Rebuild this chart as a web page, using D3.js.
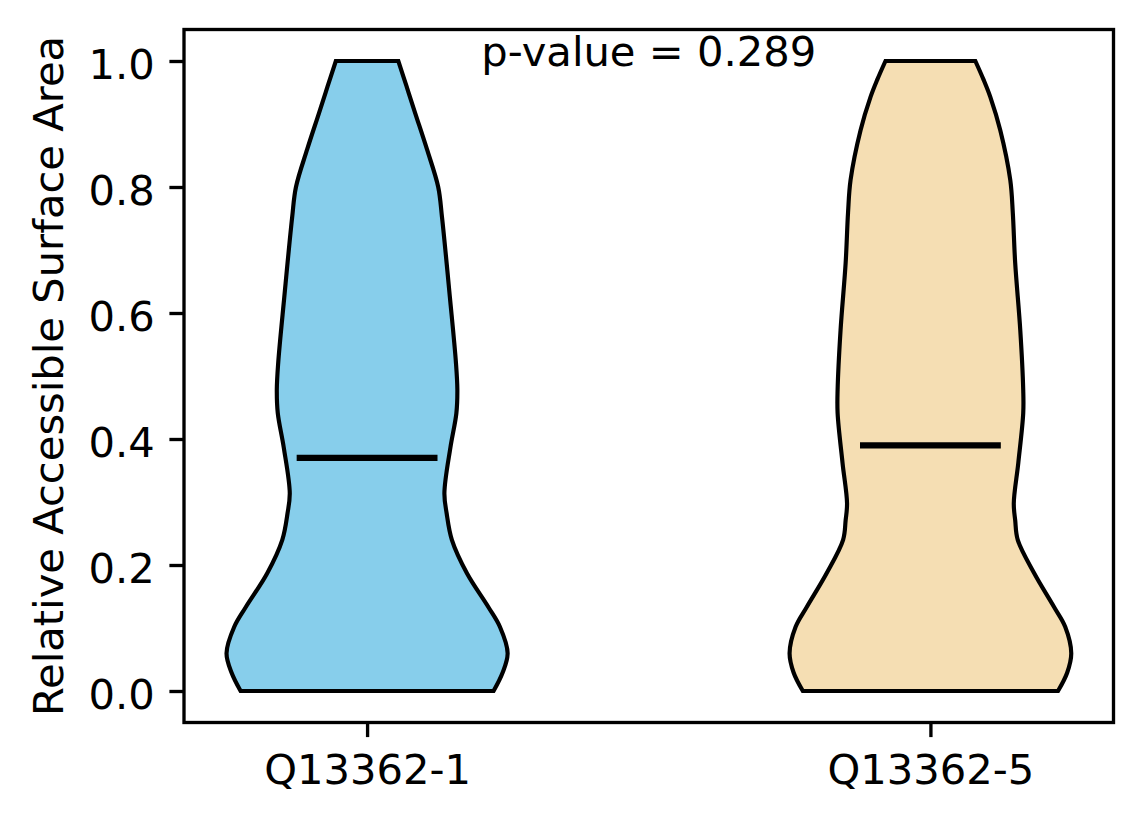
<!DOCTYPE html>
<html>
<head>
<meta charset="utf-8">
<script src="https://cdn.jsdelivr.net/npm/d3@7"></script>
<style>
  body { margin: 0; background: #fff; }
  text { font-family: "DejaVu Sans", sans-serif; fill: #000; }
</style>
</head>
<body>
<script>
// Categories, colours and summary values
var categories = ["Q13362-1", "Q13362-5"],
    fills = ["#87CEEB", "#F5DEB3"],
    medians = [0.370, 0.390],
    pText = "p-value = 0.289",
    yTicks = [0, 0.2, 0.4, 0.6, 0.8, 1.0];

// Violin outlines: y values and density relative to the widest point
var violin1Y = [0, 0.029, 0.06, 0.102, 0.133, 0.187, 0.24, 0.282, 0.314, 0.387, 0.441, 0.478, 0.521, 0.625, 0.752, 0.8, 0.86, 0.917, 0.96, 1.0],
    violin1D = [0.898, 0.962, 0.998, 0.943, 0.862, 0.709, 0.602, 0.565, 0.549, 0.592, 0.634, 0.641, 0.631, 0.588, 0.532, 0.505, 0.425, 0.342, 0.28, 0.222];

var violin2Y = [0, 0.029, 0.06, 0.102, 0.133, 0.187, 0.24, 0.271, 0.298, 0.362, 0.441, 0.478, 0.573, 0.679, 0.759, 0.811, 0.89, 0.943, 0.97, 1.0],
    violin2D = [0.906, 0.971, 1.0, 0.957, 0.879, 0.737, 0.62, 0.602, 0.592, 0.624, 0.659, 0.659, 0.638, 0.602, 0.585, 0.567, 0.496, 0.425, 0.378, 0.319];

var violins = [
  {name: categories[0], pos: 1, ys: violin1Y, ds: violin1D, fill: fills[0], median: medians[0]},
  {name: categories[1], pos: 2, ys: violin2Y, ds: violin2D, fill: fills[1], median: medians[1]}
];

// Layout (matplotlib at 300 dpi, 10pt text)
var W = 1144, H = 824,
    plot = {left: 184, right: 1113.5, top: 29.5, bottom: 722.5},
    fontPx = 41.67,
    halfWidth = 0.25; // widths=0.5

var x = d3.scaleLinear().domain([0.675, 2.325]).range([plot.left, plot.right]),
    y = d3.scaleLinear().domain([-0.05, 1.05]).range([plot.bottom, plot.top]);

var svg = d3.select("body").append("svg")
            .attr("width", W)
            .attr("height", H);

// Violin bodies
var area = d3.area()
             .curve(d3.curveCatmullRom.alpha(0.5))
             .y(d => y(d.y))
             .x0(d => x(d.pos - halfWidth * d.d))
             .x1(d => x(d.pos + halfWidth * d.d));

var body = svg.selectAll(".violin")
              .data(violins)
              .enter()
              .append("g")
              .attr("class", "violin");

body.append("path")
    .attr("d", v => area(v.ys.map((yy, i) => ({y: yy, d: v.ds[i], pos: v.pos}))))
    .attr("fill", v => v.fill)
    .attr("stroke", "#000")
    .attr("stroke-width", 4.17)
    .attr("stroke-linejoin", "miter");

// Median lines
body.append("line")
    .attr("x1", v => x(v.pos - halfWidth / 2))
    .attr("x2", v => x(v.pos + halfWidth / 2))
    .attr("y1", v => y(v.median))
    .attr("y2", v => y(v.median))
    .attr("stroke", "#000")
    .attr("stroke-width", 6.25);

// Axes
var yAxis = d3.axisLeft(y)
              .tickValues(yTicks)
              .tickFormat(d3.format(".1f"))
              .tickSize(14.6)
              .tickPadding(14.6)
              .tickSizeOuter(0);

var xAxis = d3.axisBottom(x)
              .tickValues([1, 2])
              .tickFormat((d, i) => categories[i])
              .tickSize(14.6)
              .tickPadding(14.6)
              .tickSizeOuter(0);

var gy = svg.append("g")
            .attr("transform", "translate(" + plot.left + ",0)")
            .call(yAxis);

var gx = svg.append("g")
            .attr("transform", "translate(0," + plot.bottom + ")")
            .call(xAxis);

[gx, gy].forEach(g => {
  g.select(".domain").remove();
  g.selectAll(".tick line").attr("stroke", "#000").attr("stroke-width", 3.33);
  g.selectAll(".tick text")
   .style("font-family", "'DejaVu Sans', sans-serif")
   .style("font-size", fontPx + "px")
   .attr("fill", "#000");
});
gy.selectAll(".tick text").attr("dy", "0.42em");
gx.selectAll(".tick text").attr("dy", "0.78em");

// Frame
svg.append("rect")
   .attr("x", plot.left)
   .attr("y", plot.top)
   .attr("width", plot.right - plot.left)
   .attr("height", plot.bottom - plot.top)
   .attr("fill", "none")
   .attr("stroke", "#000")
   .attr("stroke-width", 3.33);

// Y label
svg.append("text")
   .attr("transform", "translate(63," + ((plot.top + plot.bottom) / 2) + ") rotate(-90)")
   .attr("text-anchor", "middle")
   .style("font-size", fontPx + "px")
   .text("Relative Accessible Surface Area");

// p-value annotation
svg.append("text")
   .attr("x", (plot.left + plot.right) / 2)
   .attr("y", 66)
   .attr("text-anchor", "middle")
   .style("font-size", fontPx + "px")
   .text(pText);
</script>
</body>
</html>
